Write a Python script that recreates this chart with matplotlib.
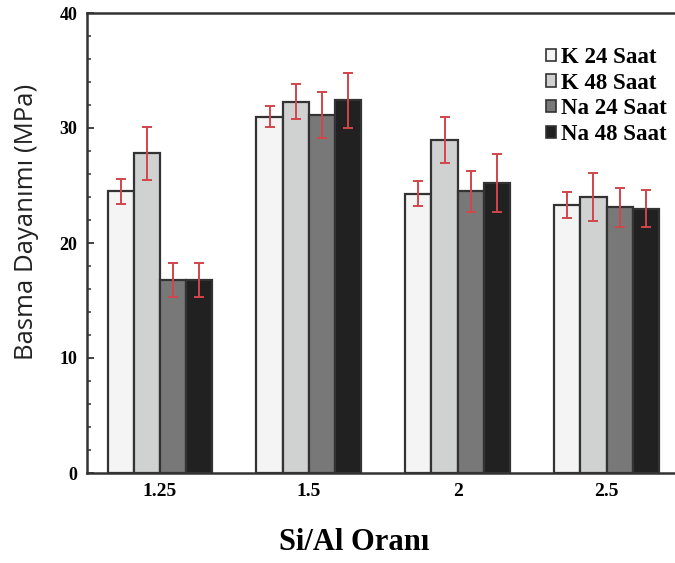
import matplotlib.pyplot as plt
import numpy as np
from matplotlib.patches import Patch

ratios = ['1.25', '1.5', '2', '2.5']
series = ['K 24 Saat', 'K 48 Saat', 'Na 24 Saat', 'Na 48 Saat']
k24 = [24.5, 31.0, 24.3, 23.3]
k48 = [27.8, 32.3, 29.0, 24.0]
na24 = [16.8, 31.1, 24.5, 23.1]
na48 = [16.8, 32.4, 25.2, 23.0]
k24_err = [1.1, 0.95, 1.1, 1.1]
k48_err = [2.3, 1.5, 2.0, 2.1]
na24_err = [1.5, 2.0, 1.8, 1.7]
na48_err = [1.5, 2.4, 2.5, 1.6]

colors = ['#f4f4f4', '#d0d1d1', '#777877', '#212121']
edge = '#333333'
serif = 'Liberation Serif'

fig = plt.figure(figsize=(6.75, 5.63), dpi=100)
ax = fig.add_axes([87 / 675, 1 - 473 / 563, (675 - 87) / 675, (473 - 13) / 563])

x = np.arange(len(ratios))
w = 0.176
vals = [k24, k48, na24, na48]
errs = [k24_err, k48_err, na24_err, na48_err]
for i in range(4):
    pos = x + (i - 1.5) * w
    ax.bar(pos, vals[i], w, color=colors[i], edgecolor=edge, linewidth=1.6, zorder=2)
    ax.errorbar(pos, vals[i], yerr=errs[i], fmt='none', ecolor='#d0464a',
                elinewidth=1.4, capsize=3.5, capthick=1.4, zorder=3)

ax.set_xlim(-0.49, 3.46)
ax.set_ylim(0, 40)
ax.set_yticks([0, 10, 20, 30, 40])
ax.set_yticks(np.arange(0, 41, 2), minor=True)
ax.set_xticks(x)
ax.set_xticklabels(ratios, fontfamily=serif, fontweight='bold', fontsize=14)
for lab in ax.get_yticklabels():
    lab.set_fontfamily(serif)
    lab.set_fontweight('bold')
    lab.set_fontsize(13)
ax.tick_params(axis='y', which='major', direction='in', length=5, width=1.3, color=edge, pad=7)
ax.tick_params(axis='y', which='minor', direction='in', length=3, width=1.1, color=edge)
ax.tick_params(axis='x', length=0, pad=7)
for s in ['left', 'bottom', 'top']:
    ax.spines[s].set_linewidth(1.8)
    ax.spines[s].set_color(edge)
ax.spines['right'].set_visible(False)

# y label placed by hand, it sits above the axes centre in the original
fig.text(27 / 675, 1 - 222 / 563, 'Basma Dayanımı (MPa)', fontfamily='Open Sans', fontsize=18.5,
         color='#222222', rotation=90, ha='center', va='center')
fig.text(354 / 675, 1 - 543 / 563, 'Si/Al Oranı', fontfamily=serif, fontweight='bold',
         fontsize=22, ha='center', va='center')

handles = [Patch(facecolor=colors[i], edgecolor=edge, linewidth=1.2) for i in range(4)]
ax.legend(handles, series, loc='upper left', bbox_to_anchor=(537 / 675, 1 - 38 / 563), frameon=False,
          prop={'family': serif, 'weight': 'bold', 'size': 16.5},
          handlelength=0.45, handleheight=0.45, handletextpad=0.2, labelspacing=0.2,
          borderaxespad=0, bbox_transform=fig.transFigure)

fig.savefig('out.png', dpi=100)
